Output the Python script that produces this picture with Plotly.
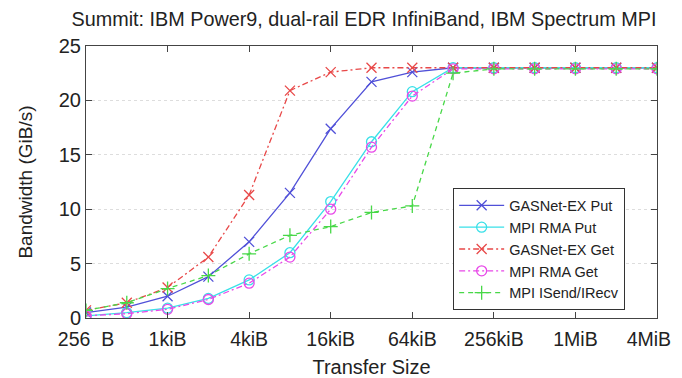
import plotly.graph_objects as go

sizes = [256, 512, 1024, 2048, 4096, 8192, 16384, 32768, 65536, 131072,
         262144, 524288, 1048576, 2097152, 4194304]

gasnet_put = [0.5, 1.0, 2.0, 3.8, 7.0, 11.5, 17.4, 21.7, 22.6, 23.0, 23.0, 23.0, 23.0, 23.0, 23.0]
mpi_rma_put = [0.2, 0.5, 0.9, 1.8, 3.5, 6.0, 10.7, 16.2, 20.8, 23.0, 23.0, 23.0, 23.0, 23.0, 23.0]
gasnet_get = [0.7, 1.4, 2.8, 5.6, 11.3, 20.9, 22.6, 23.0, 23.0, 23.0, 23.0, 23.0, 23.0, 23.0, 23.0]
mpi_rma_get = [0.2, 0.4, 0.8, 1.7, 3.2, 5.6, 10.0, 15.7, 20.4, 22.9, 22.9, 22.9, 22.9, 22.9, 22.9]
mpi_isend = [0.7, 1.4, 2.7, 3.9, 5.9, 7.6, 8.4, 9.7, 10.3, 22.5, 22.9, 22.9, 22.9, 22.9, 22.9]

tick_vals = [256, 1024, 4096, 16384, 65536, 262144, 1048576, 4194304]
tick_text = ["256  B", "1kiB", "4kiB", "16kiB", "64kiB", "256kiB", "1MiB", "4MiB\u00a0\u00a0\u00a0"]
y_ticks = [0, 5, 10, 15, 20, 25]

series = [
    ("GASNet-EX Put", gasnet_put, "#5050d8", "solid", "x-thin-open"),
    ("MPI RMA Put", mpi_rma_put, "#38e0e8", "solid", "circle-open"),
    ("GASNet-EX Get", gasnet_get, "#e84848", "6px,3px,2px,3px", "x-thin-open"),
    ("MPI RMA Get", mpi_rma_get, "#e848e8", "6px,3px,2px,3px", "circle-open"),
    ("MPI ISend/IRecv", mpi_isend, "#48d848", "5px,4px", "cross-thin-open"),
]

fig = go.Figure()
for name, ys, color, dash, sym in series:
    fig.add_trace(go.Scatter(
        x=sizes, y=ys, name=name, mode="lines+markers",
        line=dict(color=color, width=1.3, dash=dash),
        marker=dict(symbol=sym, size=10, color=color, line=dict(color=color, width=1.3)),
    ))

font = "Liberation Sans, Arial, Helvetica, sans-serif"
fig.update_layout(
    width=682, height=370,
    margin=dict(l=78, r=33, t=38, b=60, autoexpand=False),
    paper_bgcolor="white", plot_bgcolor="white",
    font=dict(family=font, size=20, color="#222"),
    title=dict(text="Summit: IBM Power9, dual-rail EDR InfiniBand, IBM Spectrum MPI",
               x=0.522, xanchor="center", y=0.97, yanchor="middle",
               font=dict(size=19.8, family=font, color="#222"),
               automargin=False),
    showlegend=True,
    legend=dict(x=0.643, y=0.028, xanchor="left", yanchor="bottom",
                bgcolor="white", bordercolor="#333", borderwidth=1,
                font=dict(size=14.5, family=font, color="#222"),
                tracegroupgap=0, itemwidth=45),
)
fig.update_xaxes(
    type="log", range=[2.40824, 6.62266],
    tickvals=tick_vals, ticktext=tick_text,
    ticks="inside", ticklen=6, tickcolor="#444",
    showline=True, linecolor="#444", linewidth=1, mirror="ticks",
    showgrid=False, zeroline=False, automargin=False,
    tickfont=dict(size=19.5), ticklabelstandoff=4,
    title=dict(text="Transfer Size", font=dict(size=20), standoff=17),
)
fig.update_yaxes(
    range=[0, 25], tickvals=y_ticks,
    ticks="inside", ticklen=6, tickcolor="#444",
    showline=True, linecolor="#444", linewidth=1, mirror="ticks",
    showgrid=True, gridcolor="#dddddd", griddash="dot", gridwidth=1,
    zeroline=False, automargin=False,
    tickfont=dict(size=20),
    title=dict(text="Bandwidth (GiB/s)", font=dict(size=19), standoff=21),
)

fig.write_html("out.html")
